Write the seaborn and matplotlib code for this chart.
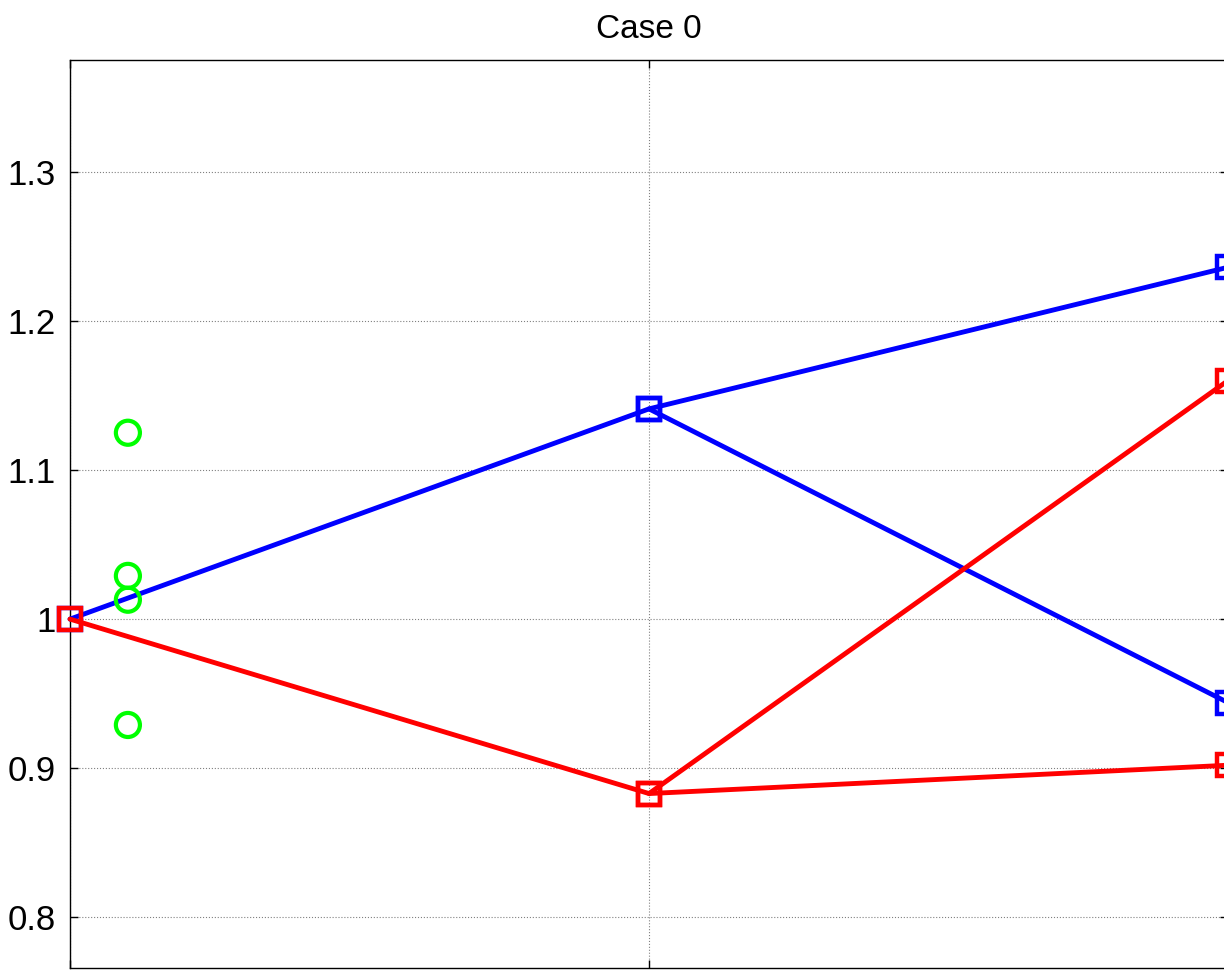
import numpy as np
import pandas as pd
import seaborn as sns
import matplotlib
matplotlib.use("Agg")
import matplotlib.pyplot as plt

# branch paths (x positions are stages 0, 1, 2)
blue_x = [0, 1, 2, 1, 2]
blue_y = [1.000, 1.141, 1.236, 1.141, 0.944]
blue_path = ["a", "a", "a", "b", "b"]

red_x = [0, 1, 2, 1, 2]
red_y = [1.000, 0.883, 1.160, 0.883, 0.902]
red_path = ["a", "a", "a", "b", "b"]

green_x = [0.1, 0.1, 0.1, 0.1]
green_y = [1.125, 1.029, 1.013, 0.929]

yticks = [0.8, 0.9, 1.0, 1.1, 1.2, 1.3]
ytick_labels = ["0.8", "0.9", "1", "1.1", "1.2", "1.3"]

sns.set_style("white")
plt.rcParams['font.family'] = ['Liberation Sans', 'DejaVu Sans']

fig = plt.figure(figsize=(12.24, 9.71), dpi=100)
ax = fig.add_axes([70 / 1224, 3 / 971, 1158 / 1224, 908 / 971])

blue_df = pd.DataFrame({"x": blue_x, "y": blue_y, "path": blue_path})
red_df = pd.DataFrame({"x": red_x, "y": red_y, "path": red_path})
green_df = pd.DataFrame({"x": green_x, "y": green_y})

for df, col in [(blue_df, "#0000ff"), (red_df, "#ff0000")]:
    sns.lineplot(data=df, x="x", y="y", units="path", estimator=None, sort=False,
                 color=col, lw=3.5, marker="s", markersize=16, mfc="none",
                 mec=col, mew=3.2, ax=ax, clip_on=False, zorder=3)

sns.scatterplot(data=green_df, x="x", y="y", s=300, facecolors="none",
                edgecolor="#00ff00", linewidth=3, ax=ax, zorder=4)

ax.set_xlim(0, 2)
ax.set_ylim(0.766, 1.375)
ax.set_xticks([0, 1, 2])
ax.set_xticklabels([])
ax.set_yticks(yticks)
ax.set_yticklabels(ytick_labels, fontsize=25)
ax.set_xlabel("")
ax.set_ylabel("")
ax.tick_params(direction="in", length=6, width=1, top=True, right=True,
               left=True, bottom=True, pad=10, colors="black")
ax.grid(True, color="#808080", linestyle=":", linewidth=0.8)
for s in ax.spines.values():
    s.set_color("black")
    s.set_linewidth(1)

ax.set_title("Case 0", fontsize=24, pad=16, color="black")

fig.savefig("out.png", dpi=100)
